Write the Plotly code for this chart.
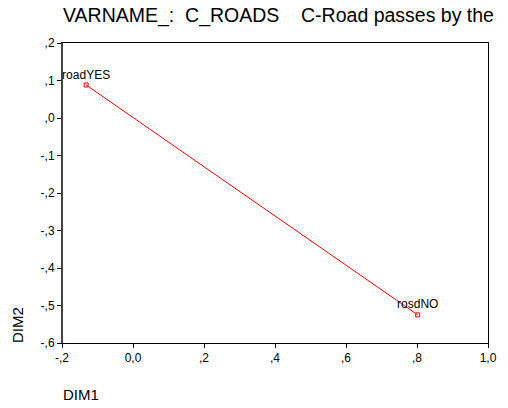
import plotly.graph_objects as go

categories = ["roadYES", "rosdNO"]
dim1 = [-0.132, 0.802]
dim2 = [0.088, -0.525]

x_tickvals = [-0.2, 0.0, 0.2, 0.4, 0.6, 0.8, 1.0]
x_ticktext = ["-,2", "0,0", ",2", ",4", ",6", ",8", "1,0"]
y_tickvals = [0.2, 0.1, 0.0, -0.1, -0.2, -0.3, -0.4, -0.5, -0.6]
y_ticktext = [",2", ",1", ",0", "-,1", "-,2", "-,3", "-,4", "-,5", "-,6"]

title_text = "VARNAME_:\u00a0 C_ROADS\u00a0\u00a0\u00a0\u00a0C-Road passes by the community"

FONT = "Liberation Sans, Arial, sans-serif"

fig = go.Figure()
fig.add_trace(go.Scatter(
    x=dim1, y=dim2, mode="lines+markers+text",
    text=categories, textposition="top center",
    textfont=dict(family=FONT, size=12, color="black"),
    line=dict(color="#ff0000", width=1),
    marker=dict(symbol="square-open", size=4, color="#ff0000", line=dict(width=1, color="#ff0000")),
    cliponaxis=False, showlegend=False,
))

fig.update_layout(
    width=500, height=400,
    margin=dict(l=54, r=20, t=35, b=65),
    paper_bgcolor="white", plot_bgcolor="white",
    font=dict(family=FONT, size=12, color="black"),
    xaxis=dict(
        range=[-0.2, 1.0], tickvals=x_tickvals, ticktext=x_ticktext,
        showgrid=False, zeroline=False, showline=True, linecolor="black", linewidth=1,
        mirror=True, ticks="outside", ticklen=4, tickcolor="black", tickwidth=1,
        tickfont=dict(family=FONT, size=12, color="black"),
    ),
    yaxis=dict(
        range=[-0.6, 0.2], tickvals=y_tickvals, ticktext=y_ticktext,
        showgrid=False, zeroline=False, showline=True, linecolor="black", linewidth=1,
        mirror=True, ticks="outside", ticklen=4, tickcolor="black", tickwidth=1,
        tickfont=dict(family=FONT, size=12, color="black"),
    ),
    shapes=[dict(type="line", xref="paper", yref="paper", x0=0, x1=0, y0=0, y1=1,
                 line=dict(color="#444444", width=2), layer="above")],
    annotations=[
        dict(text=title_text, xref="paper", yref="paper", x=0, y=1, xshift=-1, yshift=14,
             xanchor="left", yanchor="bottom", showarrow=False,
             font=dict(family=FONT, size=19.5, color="black")),
        dict(text="DIM2", xref="paper", yref="paper", x=0, y=0, xshift=-45, yshift=-2,
             xanchor="center", yanchor="bottom", textangle=-90, showarrow=False,
             font=dict(family=FONT, size=15, color="black")),
        dict(text="DIM1", xref="paper", yref="paper", x=0, y=0, xshift=-1, yshift=-62,
             xanchor="left", yanchor="bottom", showarrow=False,
             font=dict(family=FONT, size=15, color="black")),
    ],
)

fig.write_html("out.html")
